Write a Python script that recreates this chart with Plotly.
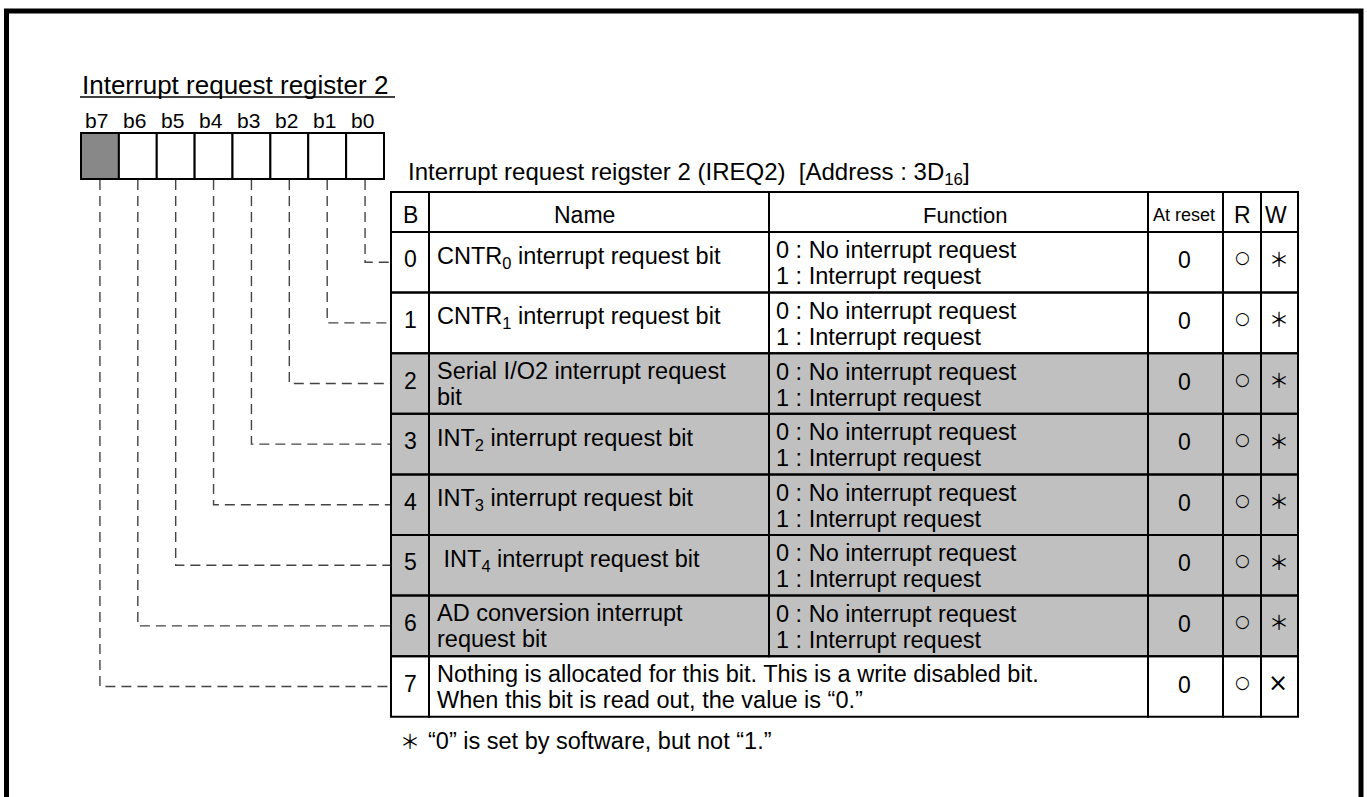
import plotly.graph_objects as go

# ---------------- data ----------------
REGISTER_TITLE = "Interrupt request register 2"
BIT_LABELS = ["b7", "b6", "b5", "b4", "b3", "b2", "b1", "b0"]
BIT_RESERVED = [True, False, False, False, False, False, False, False]
CAPTION = "Interrupt request reigster 2 (IREQ2)\u00a0\u00a0[Address : 3D<sub>16</sub>]"
HEADERS = ["B", "Name", "Function", "At reset", "R", "W"]
BIT_NUMBERS = ["0", "1", "2", "3", "4", "5", "6", "7"]
NAMES = [
    ["CNTR<sub>0</sub> interrupt request bit"],
    ["CNTR<sub>1</sub> interrupt request bit"],
    ["Serial I/O2 interrupt request", "bit"],
    ["INT<sub>2</sub> interrupt request bit"],
    ["INT<sub>3</sub> interrupt request bit"],
    ["\u00a0INT<sub>4</sub> interrupt request bit"],
    ["AD conversion interrupt", "request bit"],
    ["Nothing is allocated for this bit. This is a write disabled bit.",
     "When this bit is read out, the value is \u201c0.\u201d"],
]
FUNCTIONS = [["0 : No interrupt request", "1 : Interrupt request"]] * 7 + [None]
AT_RESET = ["0", "0", "0", "0", "0", "0", "0", "0"]
READ_ACCESS = ["\u25cb"] * 8
WRITE_ACCESS = ["\uff0a"] * 7 + ["\u00d7"]
SHADED = [False, False, True, True, True, True, True, False]
FOOTNOTE_MARK = "\uff0a"
FOOTNOTE = "\u201c0\u201d is set by software, but not \u201c1.\u201d"

# ---------------- layout geometry ----------------
W, H = 1367, 797
FONT = "Liberation Sans, Arial, sans-serif"
SYM_FONT = "Noto Sans CJK JP, DejaVu Sans"
REG_X0, REG_X1, REG_Y0, REG_Y1 = 81, 384, 133, 179
CELL_W = (REG_X1 - REG_X0) / 8
COLS = [391, 429, 769, 1148, 1223, 1261, 1298]
HDR_TOP, HDR_BOT = 192, 232
ROW_H = 60.6
LINE_W = 2
SHADE = "#c0c0c0"
RESERVED_FILL = "#888888"
BODY_SIZE = 23.5

shapes = []
annotations = []


def text(x, y, s, size, anchor="center", color="black", font=FONT):
    annotations.append(dict(
        x=x, y=y, xref="x", yref="y", text=s, showarrow=False,
        xanchor=anchor, yanchor="middle",
        font=dict(family=font, size=size, color=color),
    ))


def rect(x0, y0, x1, y1, fill=None, lw=LINE_W, color="black"):
    shapes.append(dict(
        type="rect", xref="x", yref="y", x0=x0, y0=y0, x1=x1, y1=y1,
        line=dict(color=color, width=lw),
        fillcolor=fill if fill else "rgba(0,0,0,0)",
    ))


def line(x0, y0, x1, y1, lw=LINE_W, color="black", dash="solid"):
    shapes.append(dict(
        type="line", xref="x", yref="y", x0=x0, y0=y0, x1=x1, y1=y1,
        line=dict(color=color, width=lw, dash=dash),
    ))


def row_top(i):
    return HDR_BOT + i * ROW_H


def row_mid(i):
    return HDR_BOT + (i + 0.5) * ROW_H


# outer frame
rect(6.5, 11, 1361, 840, lw=5)

# register title
text(80, 85, REGISTER_TITLE, 26, anchor="left")
line(80, 97, 395, 97, lw=1.5)

# bit labels and register cells
for i, lab in enumerate(BIT_LABELS):
    cx = REG_X0 + (i + 0.5) * CELL_W
    text(cx - 3, 120, lab, 21)
    rect(REG_X0 + i * CELL_W, REG_Y0, REG_X0 + (i + 1) * CELL_W, REG_Y1,
         fill=RESERVED_FILL if BIT_RESERVED[i] else "white")

# dashed connectors: bit k -> table row k
for k in range(8):
    i = 7 - k
    cx = REG_X0 + (i + 0.5) * CELL_W
    ym = row_mid(k)
    shapes.append(dict(
        type="path", xref="x", yref="y",
        path=f"M {cx},{REG_Y1 + 1} L {cx},{ym} L {COLS[0]},{ym}",
        line=dict(color="#444444", width=1.4, dash="10px,6px"),
    ))

# caption
text(406, 173, CAPTION, 24, anchor="left")

# row shading
for r in range(8):
    if SHADED[r]:
        rect(COLS[0], row_top(r), COLS[-1], row_top(r + 1), fill=SHADE, lw=0)

# header cells
for c in range(6):
    rect(COLS[c], HDR_TOP, COLS[c + 1], HDR_BOT)
hdr_x = [410, 584, 965, 1184, 1242, 1276]
hdr_size = [23, 23, 22, 18, 23, 23]
for c, h in enumerate(HEADERS):
    text(hdr_x[c], 215, h, hdr_size[c])

# body cells
for r in range(8):
    y0, y1 = row_top(r), row_top(r + 1)
    if FUNCTIONS[r] is None:
        edges = [COLS[0], COLS[1], COLS[3], COLS[4], COLS[5], COLS[6]]
    else:
        edges = COLS
    for a, b in zip(edges[:-1], edges[1:]):
        rect(a, y0, b, y1)

for r in range(8):
    ym = row_mid(r)
    text(410, ym - 3, BIT_NUMBERS[r], 23)
    nm = NAMES[r]
    if len(nm) == 1:
        text(435, ym - 5, nm[0], BODY_SIZE, anchor="left")
    else:
        text(435, ym - 13, nm[0], BODY_SIZE, anchor="left")
        text(435, ym + 13, nm[1], BODY_SIZE, anchor="left")
    if FUNCTIONS[r] is not None:
        text(774, ym - 12, FUNCTIONS[r][0], BODY_SIZE, anchor="left")
        text(774, ym + 14, FUNCTIONS[r][1], BODY_SIZE, anchor="left")
    text(1184, ym - 2, AT_RESET[r], 23)
    text(1242, ym - 5, READ_ACCESS[r], 17, font="DejaVu Sans")
    if WRITE_ACCESS[r] == "\u00d7":
        text(1278, ym - 4, WRITE_ACCESS[r], 24, font="DejaVu Sans")
    else:
        text(1279, ym - 4, WRITE_ACCESS[r], 20, font=SYM_FONT)

# footnote
text(410, 740, FOOTNOTE_MARK, 20, font=SYM_FONT)
text(426, 741, FOOTNOTE, BODY_SIZE, anchor="left")

fig = go.Figure()
fig.add_trace(go.Scatter(x=[], y=[], showlegend=False))
fig.update_layout(
    width=W, height=H,
    margin=dict(l=0, r=0, t=0, b=0),
    paper_bgcolor="white", plot_bgcolor="white",
    xaxis=dict(range=[0, W], visible=False, fixedrange=True),
    yaxis=dict(range=[H, 0], visible=False, fixedrange=True),
    shapes=shapes, annotations=annotations, showlegend=False,
)
fig.write_html(
    "out.html",
    config={"displayModeBar": False},
    post_script="document.body.style.margin='0';document.body.style.overflow='hidden';",
)
